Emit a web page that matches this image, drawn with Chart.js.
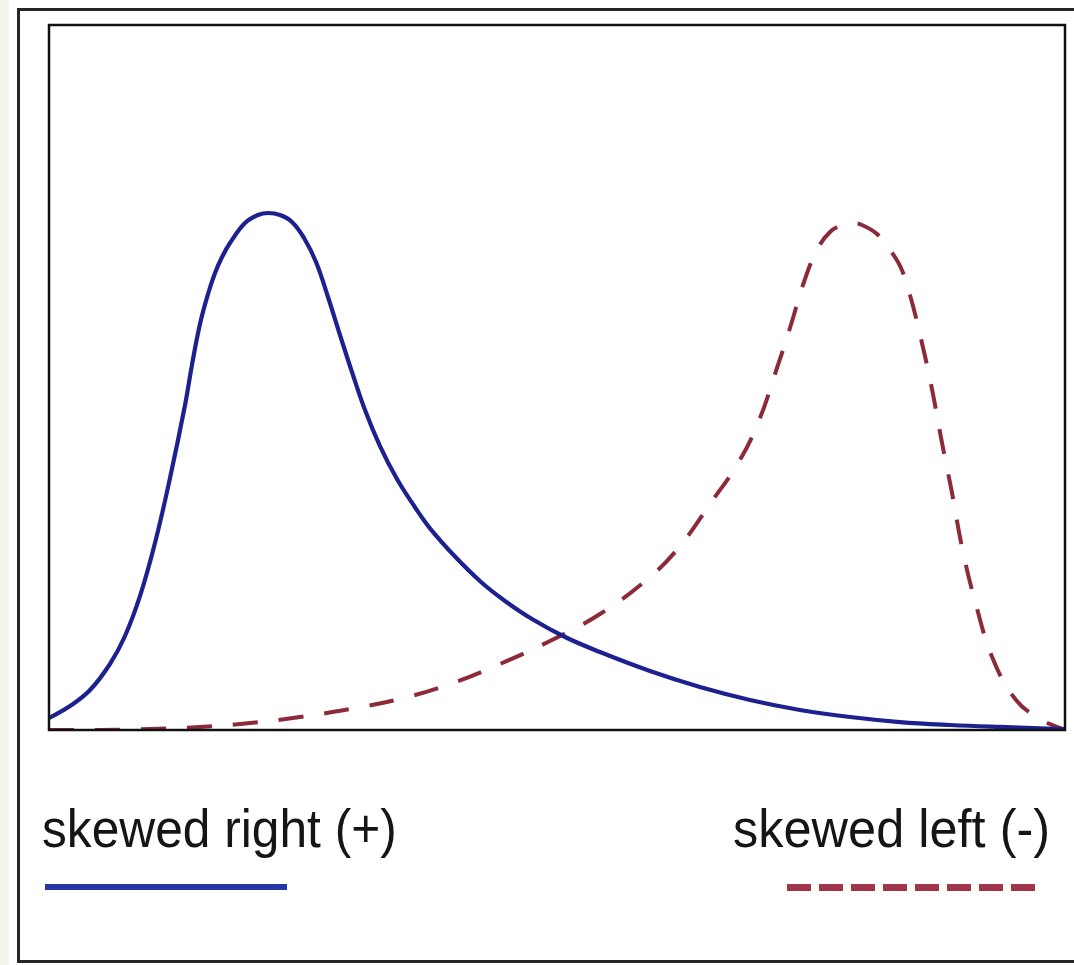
<!DOCTYPE html>
<html>
<head>
<meta charset="utf-8">
<script src="https://cdn.jsdelivr.net/npm/chart.js@4.4.1/dist/chart.umd.min.js"></script>
<style>
    html, body { margin: 0; padding: 0; }
    body { width: 1074px; height: 965px; overflow: hidden; background: #f2f5e9; position: relative; font-family: "Liberation Sans", Arial, sans-serif; }
    .sheet { position: absolute; left: 9px; top: 0; width: 1100px; height: 965px; background: #fff; }
    .frame { position: absolute; left: 17px; top: 8px; width: 1100px; height: 955px; box-sizing: border-box; border: 3px solid #262626; }
    #chart { position: absolute; left: 0; top: 0; }
    .legend-text { position: absolute; top: 801px; font-size: 54px; line-height: 54px; color: #151515; white-space: pre; }
    .legend-line { position: absolute; top: 884px; height: 7px; }
</style>
</head>
<body>
<div class="sheet"></div>
<div class="frame"></div>
<canvas id="chart" width="1074" height="965"></canvas>
<div id="legend"></div>
<script>
// 兩條偏態分佈曲線（x、y 皆為 0-100 的相對刻度）
const seriesLabels = ['skewed right (+)', 'skewed left (-)'];

const rightSkewX = [0, 2.07, 4.04, 6.00, 7.48, 8.96, 10.43, 11.91, 13.39, 14.07, 14.86, 15.65, 16.34, 17.03, 17.81, 19.29, 20.57, 21.56, 22.74, 23.92, 25.10, 26.28, 27.46, 28.64, 29.82, 31.10, 32.58, 34.25, 36.02, 37.50, 39.96, 42.52, 44.88, 47.54, 50.79, 54.23, 59.15, 64.07, 69.00, 73.92, 78.84, 83.76, 88.68, 93.60, 100];
const rightSkewY = [1.70, 3.40, 5.67, 9.36, 13.33, 19.01, 26.52, 35.74, 46.10, 51.77, 57.59, 61.84, 64.82, 67.09, 69.08, 71.91, 73.05, 73.33, 73.05, 72.06, 69.79, 66.38, 61.42, 56.03, 50.78, 45.39, 40.28, 35.60, 31.60, 28.60, 24.60, 20.99, 18.30, 15.74, 13.19, 11.06, 8.37, 6.10, 4.26, 2.84, 1.84, 1.13, 0.71, 0.43, 0.14];

const leftSkewX = [0, 5.02, 9.94, 14.86, 19.78, 24.70, 29.63, 34.55, 39.47, 44.39, 49.31, 54.23, 59.15, 62.11, 65.06, 68.01, 69.98, 71.46, 72.93, 74.41, 75.69, 76.87, 78.05, 79.04, 80.02, 81.50, 82.78, 83.86, 84.74, 85.53, 86.81, 87.80, 88.88, 89.86, 91.14, 92.91, 95.18, 97.54, 100];
const leftSkewY = [0, 0, 0.14, 0.43, 0.99, 1.84, 2.98, 4.40, 6.52, 9.36, 12.62, 16.45, 21.70, 26.10, 32.06, 38.30, 44.26, 50.50, 57.02, 63.97, 68.37, 70.64, 71.63, 71.91, 71.63, 70.35, 68.09, 65.53, 61.70, 57.30, 49.08, 41.42, 33.62, 25.96, 18.30, 10.07, 4.26, 1.56, 0];

function toPoints(xs, ys) {
    return xs.map((x, i) => ({ x: x, y: ys[i] }));
}

// 圖框外框
const plotFrame = {
    id: 'plotFrame',
    afterDraw(chart) {
        const a = chart.chartArea;
        const ctx = chart.ctx;
        ctx.save();
        ctx.strokeStyle = '#111';
        ctx.lineWidth = 2.5;
        ctx.strokeRect(a.left, a.top, a.right - a.left, a.bottom - a.top);
        ctx.restore();
    }
};

const chart = new Chart(document.getElementById('chart'), {
    type: 'line',
    data: {
        datasets: [{
            label: seriesLabels[0],
            data: toPoints(rightSkewX, rightSkewY),
            borderColor: '#1d218f',
            legendColor: '#2536a6',
            borderWidth: 4.2,
            pointRadius: 0,
            tension: 0.4,
            fill: false
        }, {
            label: seriesLabels[1],
            data: toPoints(leftSkewX, leftSkewY),
            borderColor: '#8c2a3a',
            legendColor: '#a0364a',
            borderWidth: 4,
            borderDash: [25, 21],
            pointRadius: 0,
            tension: 0.4,
            fill: false
        }]
    },
    options: {
        responsive: false,
        animation: false,
        layout: { padding: { left: 49, top: 25, right: 9, bottom: 235 } },
        plugins: {
            legend: { display: false },
            tooltip: { enabled: false }
        },
        scales: {
            x: { type: 'linear', min: 0, max: 100, display: false },
            y: { min: 0, max: 100, display: false }
        }
    },
    plugins: [plotFrame]
});

// 圖例：文字在上，線樣在下，左右兩端對齊
const legendBox = document.getElementById('legend');
chart.data.datasets.forEach((ds, i) => {
    const text = document.createElement('div');
    text.className = 'legend-text';
    text.textContent = ds.label;
    if (i === 0) {
        text.style.left = '42px';
        text.style.transformOrigin = 'left top';
        text.style.transform = 'scaleX(0.92)';
    } else {
        text.style.right = '24px';
        text.style.transformOrigin = 'right top';
        text.style.transform = 'scaleX(0.935)';
    }
    legendBox.appendChild(text);

    const line = document.createElement('div');
    line.className = 'legend-line';
    if (ds.borderDash) {
        line.style.left = '787px';
        line.style.width = '248px';
        line.style.background = 'repeating-linear-gradient(to right, ' + ds.legendColor + ' 0 24px, transparent 24px 32px)';
    } else {
        line.style.left = '45px';
        line.style.width = '242px';
        line.style.height = '6px';
        line.style.background = ds.legendColor;
    }
    legendBox.appendChild(line);
});
</script>
</body>
</html>
